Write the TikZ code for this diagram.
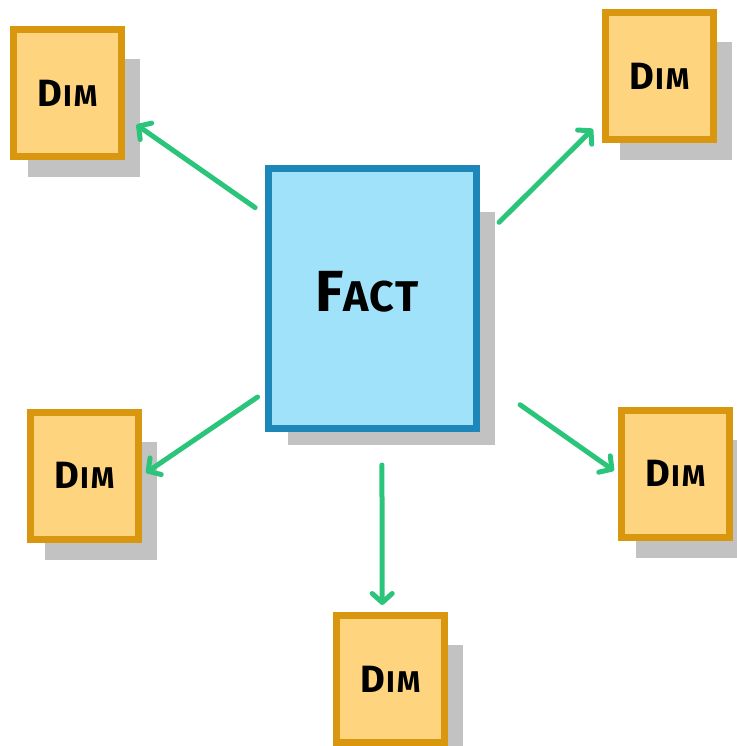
\documentclass[tikz,border=0pt]{standalone}
\usepackage{fontspec}
\setmainfont{Fira Sans}
\usepackage{tikz}
\usetikzlibrary{arrows.meta}
\usetikzlibrary{backgrounds}
\definecolor{FactFill}{HTML}{A0E2FA}
\definecolor{FactLine}{HTML}{1C87B8}
\definecolor{DimFill}{HTML}{FED47E}
\definecolor{DimLine}{HTML}{D8970F}
\definecolor{Link}{HTML}{2BC47B}
\definecolor{Shade}{HTML}{C2C2C2}
\tikzset{
  % common box look
  card/.style={draw=#1Line,fill=#1Fill,line width=7pt,inner sep=0pt,font=\bfseries},
  fact/.style={card=Fact,minimum width=208pt,minimum height=260pt},
  dim/.style={card=Dim,minimum width=108pt,minimum height=127pt},
  % green arrows from the fact table
  link/.style={Link,line width=5pt,line cap=round,
    -{Straight Barb[length=9pt,width=20pt,round]}},
  shade/.style={fill=Shade},
}
\newcommand{\facttext}{{\fontsize{58}{58}\selectfont F}{\fontsize{43}{43}\selectfont A\kern1pt C\kern1pt T}}
\newcommand{\dimtext}{{\fontsize{38}{38}\selectfont D\kern1pt}{\fontsize{30}{30}\selectfont I\kern2pt M}}

\begin{document}
\begin{tikzpicture}[x=1pt,y=-1pt]
  \useasboundingbox (0,0) rectangle (736,746);
  \node[fact] (fact) at (372.5,298.5) {};
  \node[font=\bfseries] at (367,292) (facttxt) {\facttext};
  \node[dim] (d1) at (67.5,93.5) {\dimtext};
  \node[dim] (d2) at (659.5,76.5) {\dimtext};
  \node[dim] (d3) at (84.5,475.5) {\dimtext};
  \node[dim] (d4) at (675.5,473.5) {\dimtext};
  \node[dim] (d5) at (390.5,679) {\dimtext};
  % shadows behind the boxes
  \begin{scope}[on background layer]
    \foreach \d in {d1,d2,d3,d4,d5}
      \fill[shade] ([shift={(18,17)}]\d.south west) rectangle ([shift={(15,33)}]\d.north east);
    \fill[shade] ([shift={(23,13)}]fact.south west) rectangle ([shift={(15,47)}]fact.north east);
  \end{scope}
  \draw[link,shorten <=12pt,shorten >=14pt] (fact.142) -- (d1.-22);
  \draw[link,shorten <=27pt,shorten >=13pt] (fact.28) -- (d2.217);
  \draw[link,shorten <=9pt,shorten >=5pt] (fact.221.5) -- (d3.0);
  \draw[link,shorten <=49pt,shorten >=5pt] (fact.-36.6) -- (d4.180);
  \draw[link,shorten <=33pt,shorten >=7pt] (fact.-86) -- (d5.97);
\end{tikzpicture}
\end{document}
